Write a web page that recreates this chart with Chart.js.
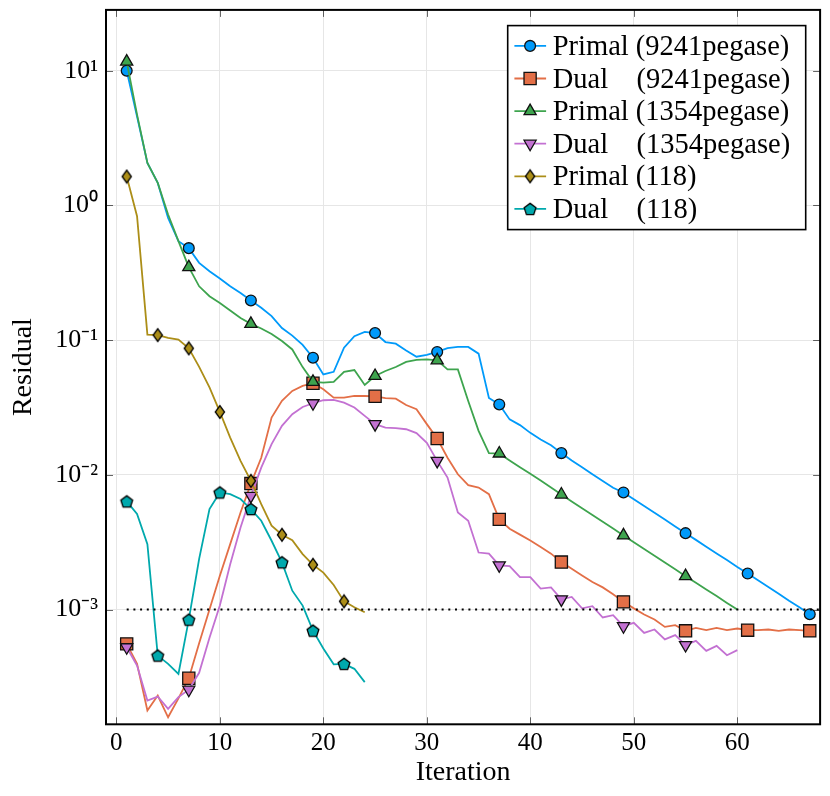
<!DOCTYPE html>
<html><head><meta charset="utf-8">
<script src="https://cdn.jsdelivr.net/npm/chart.js@4.4.1/dist/chart.umd.min.js"></script>
<style>html,body{margin:0;padding:0;background:#fff;}canvas{display:block;}</style>
</head><body>
<canvas id="c" width="830" height="796"></canvas>
<script>
const iterations = [1,2,3,4,5,6,7,8,9,10,11,12,13,14,15,16,17,18,19,20,21,22,23,24,25,26,27,28,29,30,31,32,33,34,35,36,37,38,39,40,41,42,43,44,45,46,47,48,49,50,51,52,53,54,55,56,57,58,59,60,61,62,63,64,65,66,67];
const seriesNames = ['Primal (9241pegase)', 'Dual    (9241pegase)', 'Primal (1354pegase)', 'Dual    (1354pegase)', 'Primal (118)', 'Dual    (118)'];
const primal9241 = [10, 4.57, 2.07, 1.47, 0.807, 0.543, 0.482, 0.375, 0.325, 0.287, 0.251, 0.224, 0.197, 0.174, 0.151, 0.123, 0.108, 0.0923, 0.0741, 0.0557, 0.0582, 0.0879, 0.107, 0.115, 0.113, 0.0968, 0.0942, 0.0839, 0.0753, 0.0776, 0.0817, 0.0871, 0.0891, 0.0891, 0.0794, 0.0372, 0.0333, 0.0258, 0.0234, 0.0205, 0.0183, 0.0166, 0.0145, 0.0128, 0.0114, 0.0101, 0.00899, 0.00802, 0.0074, 0.00659, 0.00586, 0.00522, 0.00466, 0.00414, 0.00369, 0.00329, 0.00293, 0.00261, 0.00233, 0.00207, 0.00185, 0.00165, 0.00147, 0.00131, 0.00116, 0.00104, 0.000923];
const dual9241 = [5.56e-4, 3.95e-4, 1.78e-4, 2.30e-4, 1.585e-4, 2.19e-4, 3.09e-4, 5.62e-4, 1.0e-3, 1.78e-3, 3.06e-3, 5.25e-3, 8.61e-3, 0.0134, 0.0266, 0.0354, 0.042, 0.0457, 0.0479, 0.0432, 0.0374, 0.0374, 0.0385, 0.0385, 0.0383, 0.0371, 0.0368, 0.033, 0.0307, 0.0238, 0.0186, 0.0134, 0.0101, 8.39e-3, 8.05e-3, 7.19e-3, 4.67e-3, 3.98e-3, 3.60e-3, 3.26e-3, 2.91e-3, 2.60e-3, 2.25e-3, 2.01e-3, 1.79e-3, 1.60e-3, 1.46e-3, 1.30e-3, 1.14e-3, 1.02e-3, 9.18e-4, 8.43e-4, 7.43e-4, 7.66e-4, 6.95e-4, 7.31e-4, 7.03e-4, 7.31e-4, 7.03e-4, 7.23e-4, 7.03e-4, 7.03e-4, 7.11e-4, 6.95e-4, 7.11e-4, 7.03e-4, 6.95e-4];
const primal1354 = [11.7, 4.72, 2.07, 1.47, 0.857, 0.543, 0.348, 0.251, 0.212, 0.189, 0.166, 0.146, 0.132, 0.122, 0.111, 0.0984, 0.0853, 0.0631, 0.049, 0.0484, 0.049, 0.0581, 0.06, 0.0465, 0.0542, 0.059, 0.0632, 0.0689, 0.0713, 0.0719, 0.0708, 0.0607, 0.0607, 0.0353, 0.0212, 0.0145, 0.0144, 0.0128, 0.0114, 0.0102, 9.06e-3, 8.04e-3, 7.14e-3, 6.35e-3, 5.66e-3, 5.04e-3, 4.48e-3, 3.99e-3, 3.55e-3, 3.16e-3, 2.81e-3, 2.51e-3, 2.23e-3, 1.99e-3, 1.77e-3, 1.58e-3, 1.41e-3, 1.26e-3, 1.12e-3, 1.0e-3];
const dual1354 = [5.25e-4, 3.84e-4, 2.11e-4, 2.26e-4, 1.83e-4, 2.24e-4, 2.54e-4, 3.39e-4, 6.17e-4, 1.07e-3, 2.17e-3, 4.07e-3, 6.98e-3, 0.0113, 0.0169, 0.0231, 0.0282, 0.0319, 0.034, 0.0358, 0.036, 0.0344, 0.0316, 0.0274, 0.0238, 0.0224, 0.0222, 0.0218, 0.0204, 0.0173, 0.0127, 9.55e-3, 5.25e-3, 4.56e-3, 2.65e-3, 2.60e-3, 2.13e-3, 2.10e-3, 1.74e-3, 1.74e-3, 1.43e-3, 1.46e-3, 1.19e-3, 1.24e-3, 1.02e-3, 1.06e-3, 8.73e-4, 9.08e-4, 7.52e-4, 7.96e-4, 6.71e-4, 7.11e-4, 6.00e-4, 6.46e-4, 5.45e-4, 5.86e-4, 4.93e-4, 5.37e-4, 4.58e-4, 5.00e-4];
const primal118 = [1.64, 0.832, 0.110, 0.109, 0.104, 0.101, 0.0869, 0.0634, 0.0446, 0.0293, 0.0189, 0.0127, 9.02e-3, 6.05e-3, 4.19e-3, 3.59e-3, 3.27e-3, 2.58e-3, 2.15e-3, 1.88e-3, 1.52e-3, 1.15e-3, 1.04e-3, 9.55e-4];
const dual118 = [6.35e-3, 5.12e-3, 3.06e-3, 4.55e-4, 3.95e-4, 3.33e-4, 8.41e-4, 2.38e-3, 5.57e-3, 7.40e-3, 7.19e-3, 6.61e-3, 5.57e-3, 4.56e-3, 3.24e-3, 2.24e-3, 1.38e-3, 1.07e-3, 6.97e-4, 5.14e-4, 3.92e-4, 3.95e-4, 3.63e-4, 2.89e-4];
const thresholdValue = 1e-3;
const thresholdIterations = [1, 68];
const xTicks = [0, 10, 20, 30, 40, 50, 60];
const yTicks = [1e-3, 1e-2, 1e-1, 1, 10];
const yTickLabels = ['10\u207B\u00B3', '10\u207B\u00B2', '10\u207B\u00B9', '10\u2070', '10\u00B9'];

const SERIF = "'Liberation Serif', 'Times New Roman', serif";
const colors = ['#009AFA', '#E36F47', '#3EA44E', '#C371D2', '#AC8E18', '#00A9AD'];

function polyCanvas(w, h, pts, fill) {
  const c = document.createElement('canvas');
  c.width = w; c.height = h;
  const g = c.getContext('2d');
  g.beginPath();
  pts.forEach((p, i) => i ? g.lineTo(p[0], p[1]) : g.moveTo(p[0], p[1]));
  g.closePath();
  g.fillStyle = fill; g.fill();
  g.lineWidth = 1.3; g.strokeStyle = '#000'; g.lineJoin = 'miter'; g.stroke();
  return c;
}
const diamondImg = polyCanvas(14, 16, [[7, 1.6], [11.6, 8], [7, 14.4], [2.4, 8]], colors[4]);
const pentPts = [];
for (let k = 0; k < 5; k++) {
  const ang = -Math.PI / 2 + k * 2 * Math.PI / 5;
  pentPts.push([8 + 6.2 * Math.cos(ang), 8.6 + 6.2 * Math.sin(ang)]);
}
const pentagonImg = polyCanvas(16, 16, pentPts, colors[5]);

const markers = [
  {style: 'circle', radius: 5.4, rot: 0},
  {style: 'rect', radius: 8.6, rot: 0},
  {style: 'triangle', radius: 7, rot: 0},
  {style: 'triangle', radius: 7, rot: 180},
  {style: diamondImg, radius: 5, rot: 0},
  {style: pentagonImg, radius: 5, rot: 0}
];
const markEvery = [6, 6, 6, 6, 3, 3];
const seriesValues = [primal9241, dual9241, primal1354, dual1354, primal118, dual118];

const datasets = seriesValues.map((vals, s) => ({
  label: seriesNames[s],
  data: vals.map((v, i) => ({x: iterations[i], y: v})),
  borderColor: colors[s],
  backgroundColor: colors[s],
  borderWidth: 1.8,
  pointStyle: markers[s].style,
  pointRotation: markers[s].rot,
  pointRadius: (ctx) => (ctx.dataIndex % markEvery[s] === 0 ? markers[s].radius : 0),
  pointHoverRadius: (ctx) => (ctx.dataIndex % markEvery[s] === 0 ? markers[s].radius : 0),
  pointBackgroundColor: colors[s],
  pointBorderColor: '#111',
  pointBorderWidth: 1.3,
  tension: 0,
  order: 6 - s
}));
datasets.push({
  label: 'threshold',
  data: thresholdIterations.map(x => ({x: x, y: thresholdValue})),
  borderColor: '#000',
  borderWidth: 2,
  borderDash: [2, 4.7],
  pointRadius: 0,
  order: 0
});

function drawMarker(ctx, m, color, x, y) {
  ctx.save();
  ctx.fillStyle = color; ctx.strokeStyle = '#111'; ctx.lineWidth = 1.3;
  if (typeof m.style !== 'string') {
    ctx.drawImage(m.style, x - m.style.width / 2, y - m.style.height / 2);
  } else {
    ctx.beginPath();
    if (m.style === 'circle') {
      ctx.arc(x, y, m.radius, 0, Math.PI * 2);
    } else if (m.style === 'rect') {
      const h = m.radius * Math.SQRT1_2;
      ctx.rect(x - h, y - h, 2 * h, 2 * h);
    } else {
      const r = m.radius; const flip = m.rot ? -1 : 1;
      for (let k = 0; k < 3; k++) {
        const a = k * 2 * Math.PI / 3;
        const px = x + Math.sin(a) * r, py = y - flip * Math.cos(a) * r;
        k ? ctx.lineTo(px, py) : ctx.moveTo(px, py);
      }
      ctx.closePath();
    }
    ctx.fill(); ctx.stroke();
  }
  ctx.restore();
}

const framePlugin = {
  id: 'frameLegend',
  afterDatasetsDraw(chart) {
    const ctx = chart.ctx, a = chart.chartArea, sx = chart.scales.x, sy = chart.scales.y;
    ctx.save();
    ctx.strokeStyle = 'rgba(0,0,0,0.6)'; ctx.lineWidth = 1;
    ctx.beginPath();
    xTicks.forEach(v => {
      const px = Math.round(sx.getPixelForValue(v)) + 0.5;
      ctx.moveTo(px, a.bottom); ctx.lineTo(px, a.bottom - 7);
      ctx.moveTo(px, a.top); ctx.lineTo(px, a.top + 7);
    });
    yTicks.forEach(v => {
      const py = Math.round(sy.getPixelForValue(v)) + 0.5;
      ctx.moveTo(a.left, py); ctx.lineTo(a.left + 7, py);
      ctx.moveTo(a.right, py); ctx.lineTo(a.right - 7, py);
    });
    ctx.stroke();
    ctx.strokeStyle = '#000'; ctx.lineWidth = 2;
    ctx.strokeRect(a.left, a.top, a.right - a.left, a.bottom - a.top);

    // legend box (top right, inside plot)
    const bw = 298, bh = 204;
    const bx = a.right - 14.4 - bw, by = a.top + 15.7;
    ctx.fillStyle = '#fff';
    ctx.fillRect(bx, by, bw, bh);
    ctx.strokeStyle = '#000'; ctx.lineWidth = 1.6;
    ctx.strokeRect(bx, by, bw, bh);
    ctx.font = '28.5px ' + SERIF;
    ctx.textBaseline = 'alphabetic';
    ctx.textAlign = 'left';
    seriesNames.forEach((name, s) => {
      const ry = by + 20.3 + s * 32.6;
      ctx.strokeStyle = colors[s]; ctx.lineWidth = 1.8;
      ctx.beginPath(); ctx.moveTo(bx + 6.7, ry); ctx.lineTo(bx + 38.4, ry); ctx.stroke();
      drawMarker(ctx, markers[s], colors[s], bx + 22.4, ry);
      ctx.fillStyle = '#000';
      ctx.fillText(name, bx + 45, ry + 9);
    });
    ctx.restore();
  }
};

new Chart(document.getElementById('c'), {
  type: 'line',
  data: {datasets: datasets},
  options: {
    responsive: false,
    animation: false,
    events: [],
    layout: {padding: {left: 0, top: 8.3, right: 9.3, bottom: 0}},
    plugins: {legend: {display: false}, tooltip: {enabled: false}},
    scales: {
      x: {
        type: 'linear', min: -1, max: 68,
        afterBuildTicks: (s) => { s.ticks = xTicks.map(v => ({value: v})); },
        afterFit: (s) => { s.height = 71.7; s.paddingLeft = 0; s.paddingRight = 0; },
        grid: {color: '#e6e6e6', lineWidth: 1, drawTicks: false},
        border: {display: false},
        ticks: {font: {family: SERIF, size: 25}, color: '#000', padding: 4, maxRotation: 0, autoSkip: false},
        title: {display: true, text: 'Iteration', color: '#000', font: {family: SERIF, size: 28}, padding: {top: 0, bottom: 7}}
      },
      y: {
        type: 'logarithmic', min: 1.406e-4, max: 28.3,
        afterBuildTicks: (s) => { s.ticks = yTicks.map(v => ({value: v})); },
        afterFit: (s) => { s.width = 106; s.paddingTop = 0; s.paddingBottom = 0; },
        grid: {color: '#e6e6e6', lineWidth: 1, drawTicks: false},
        border: {display: false},
        ticks: {callback: (v, i) => yTickLabels[i], font: {family: SERIF, size: 26}, color: '#000', padding: 8, autoSkip: false},
        title: {display: true, text: 'Residual', color: '#000', font: {family: SERIF, size: 28}, padding: {top: 7, bottom: 0}}
      }
    }
  },
  plugins: [framePlugin]
});
</script>
</body></html>
